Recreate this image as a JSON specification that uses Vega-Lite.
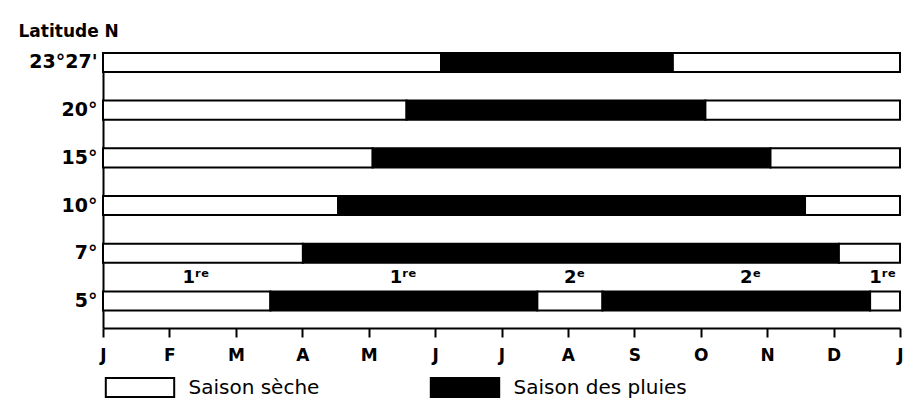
{
  "$schema": "https://vega.github.io/schema/vega-lite/v6.json",
  "width": 797,
  "height": 276,
  "autosize": {"type": "none"},
  "padding": {"left": 103, "top": 52, "right": 17, "bottom": 77},
  "background": "white",
  "config": {"view": {"stroke": null}, "font": "DejaVu Sans"},
  "datasets": {
    "segments": [
      {"latitude": "23°27'", "debut": 0, "fin": 5.09, "saison": "Saison sèche"},
      {"latitude": "23°27'", "debut": 5.09, "fin": 8.58, "saison": "Saison des pluies"},
      {"latitude": "23°27'", "debut": 8.58, "fin": 12, "saison": "Saison sèche"},
      {"latitude": "20°", "debut": 0, "fin": 4.57, "saison": "Saison sèche"},
      {"latitude": "20°", "debut": 4.57, "fin": 9.07, "saison": "Saison des pluies"},
      {"latitude": "20°", "debut": 9.07, "fin": 12, "saison": "Saison sèche"},
      {"latitude": "15°", "debut": 0, "fin": 4.06, "saison": "Saison sèche"},
      {"latitude": "15°", "debut": 4.06, "fin": 10.05, "saison": "Saison des pluies"},
      {"latitude": "15°", "debut": 10.05, "fin": 12, "saison": "Saison sèche"},
      {"latitude": "10°", "debut": 0, "fin": 3.54, "saison": "Saison sèche"},
      {"latitude": "10°", "debut": 3.54, "fin": 10.57, "saison": "Saison des pluies"},
      {"latitude": "10°", "debut": 10.57, "fin": 12, "saison": "Saison sèche"},
      {"latitude": "7°", "debut": 0, "fin": 3.01, "saison": "Saison sèche"},
      {"latitude": "7°", "debut": 3.01, "fin": 11.08, "saison": "Saison des pluies"},
      {"latitude": "7°", "debut": 11.08, "fin": 12, "saison": "Saison sèche"},
      {"latitude": "5°", "debut": 0, "fin": 2.52, "saison": "Saison sèche"},
      {"latitude": "5°", "debut": 2.52, "fin": 6.54, "saison": "Saison des pluies"},
      {"latitude": "5°", "debut": 6.54, "fin": 7.52, "saison": "Saison sèche"},
      {"latitude": "5°", "debut": 7.52, "fin": 11.55, "saison": "Saison des pluies"},
      {"latitude": "5°", "debut": 11.55, "fin": 12, "saison": "Saison sèche"}
    ],
    "labels": [
      {"latitude": "5°", "mois": 1.4, "label": "1ʳᵉ"},
      {"latitude": "5°", "mois": 4.52, "label": "1ʳᵉ"},
      {"latitude": "5°", "mois": 7.1, "label": "2ᵉ"},
      {"latitude": "5°", "mois": 9.75, "label": "2ᵉ"},
      {"latitude": "5°", "mois": 11.74, "label": "1ʳᵉ"}
    ]
  },
  "layer": [
    {
      "data": {"name": "segments"},
      "mark": {"type": "bar", "stroke": "black", "strokeWidth": 2},
      "encoding": {
        "y": {
          "field": "latitude",
          "type": "nominal",
          "sort": ["23°27'", "20°", "15°", "10°", "7°", "5°"],
          "scale": {"paddingInner": 0.6, "paddingOuter": 0.193, "align": 0.05},
          "axis": {
            "title": "Latitude N",
            "titleAngle": 0,
            "titleAlign": "left",
            "titleBaseline": "alphabetic",
            "titleX": -85,
            "titleY": -16,
            "titleFontSize": 17,
            "titleFontWeight": "bold",
            "titleColor": "black",
            "labelFontSize": 19,
            "labelFontWeight": "bold",
            "labelColor": "black",
            "ticks": false,
            "labelPadding": 6,
            "domainColor": "black",
            "domainWidth": 2,
            "grid": false
          }
        },
        "x": {
          "field": "debut",
          "type": "quantitative",
          "scale": {"domain": [0, 12], "nice": false},
          "axis": {
            "title": null,
            "values": [0, 1, 2, 3, 4, 5, 6, 7, 8, 9, 10, 11, 12],
            "labelExpr": "['J','F','M','A','M','J','J','A','S','O','N','D','J'][datum.value]",
            "tickSize": 9,
            "tickWidth": 2,
            "tickColor": "black",
            "domainColor": "black",
            "domainWidth": 2,
            "labelFontSize": 17,
            "labelFontWeight": "bold",
            "labelColor": "black",
            "labelPadding": 10,
            "labelFlush": false,
            "labelOverlap": false,
            "grid": false
          }
        },
        "x2": {"field": "fin"},
        "fill": {
          "field": "saison",
          "type": "nominal",
          "scale": {"domain": ["Saison sèche", "Saison des pluies"], "range": ["white", "black"]},
          "legend": {
            "orient": "none",
            "legendX": 26.5,
            "legendY": 325,
            "direction": "horizontal",
            "title": null,
            "symbolType": "M-3.6,-1H3.6V1H-3.6Z",
            "symbolSize": 361,
            "symbolStrokeColor": "black",
            "symbolStrokeWidth": 2,
            "labelFontSize": 20,
            "labelColor": "black",
            "labelOffset": 38,
            "labelLimit": 400,
            "columnPadding": 107
          }
        }
      }
    },
    {
      "data": {"name": "labels"},
      "mark": {"type": "text", "dy": -18, "baseline": "alphabetic", "fontWeight": "bold", "fontSize": 18, "color": "black"},
      "encoding": {
        "x": {"field": "mois", "type": "quantitative"},
        "y": {"field": "latitude", "type": "nominal", "sort": ["23°27'", "20°", "15°", "10°", "7°", "5°"]},
        "text": {"field": "label"}
      }
    }
  ]
}
